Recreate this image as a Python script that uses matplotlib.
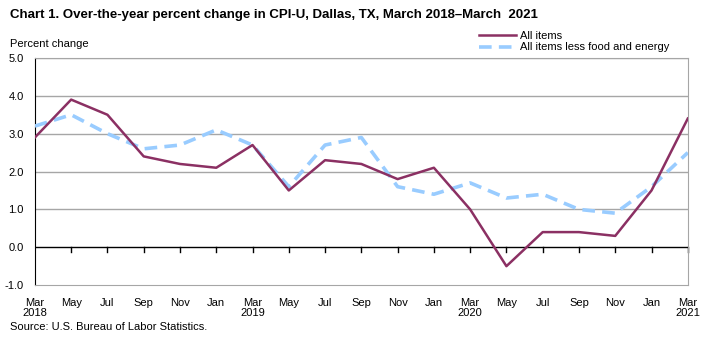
import numpy as np
import matplotlib.pyplot as plt

plt.rcParams['font.family'] = ['Liberation Sans', 'DejaVu Sans']

months = ['Mar\n2018', 'May', 'Jul', 'Sep', 'Nov', 'Jan', 'Mar\n2019', 'May', 'Jul', 'Sep',
          'Nov', 'Jan', 'Mar\n2020', 'May', 'Jul', 'Sep', 'Nov', 'Jan', 'Mar\n2021']
all_items = [2.9, 3.9, 3.5, 2.4, 2.2, 2.1, 2.7, 1.5, 2.3, 2.2,
             1.8, 2.1, 1.0, -0.5, 0.4, 0.4, 0.3, 1.5, 3.4]
core = [3.2, 3.5, 3.0, 2.6, 2.7, 3.1, 2.7, 1.6, 2.7, 2.9,
        1.6, 1.4, 1.7, 1.3, 1.4, 1.0, 0.9, 1.6, 2.5]
yticks = [-1.0, 0.0, 1.0, 2.0, 3.0, 4.0, 5.0]

x = np.arange(len(months))

fig = plt.figure(figsize=(7.12, 3.37), dpi=100)
ax = fig.add_axes([0.049, 0.154, 0.917, 0.674])

for y in yticks[2:]:
    ax.axhline(y, color='#a6a6a6', lw=1, zorder=1)
ax.axhline(0, color='black', lw=1, zorder=2)

ax.plot(x, all_items, color='#8b3063', lw=1.8, label='All items', zorder=4)
ax.plot(x, core, color='#99ccff', lw=2.6, ls=(0, (3.5, 2)), label='All items less food and energy', zorder=3)

ax.set_xlim(0, len(months) - 1)
ax.set_ylim(-1, 5)
ax.set_yticks(yticks)
ax.set_yticklabels(['%.1f' % v for v in yticks], fontsize=8)
ax.tick_params(axis='y', length=0, pad=8)
ax.set_xticks(x)
ax.set_xticklabels(months, fontsize=8, linespacing=1.1)
ax.tick_params(axis='x', length=0, pad=9)

# ticks hanging from the zero line
for xi in x[1:]:
    ax.plot([xi, xi], [0, -0.13], color='black', lw=1, zorder=2, clip_on=False)

ax.spines['left'].set_color('black')
for s in ['top', 'right', 'bottom']:
    ax.spines[s].set_color('#a6a6a6')

fig.text(0.014, 0.955, 'Chart 1. Over-the-year percent change in CPI-U, Dallas, TX, March 2018\u2013March  2021',
         fontsize=9.5, fontweight='bold', va='center')
fig.text(0.014, 0.87, 'Percent change', fontsize=8, va='center')
fig.text(0.014, 0.03, 'Source: U.S. Bureau of Labor Statistics.', fontsize=8, va='center')

leg = fig.legend(loc='upper left', bbox_to_anchor=(0.665, 0.925), frameon=False, fontsize=8,
                 handlelength=3.3, handletextpad=0.35, labelspacing=0.15, borderpad=0)

fig.savefig('out.png', dpi=100)
